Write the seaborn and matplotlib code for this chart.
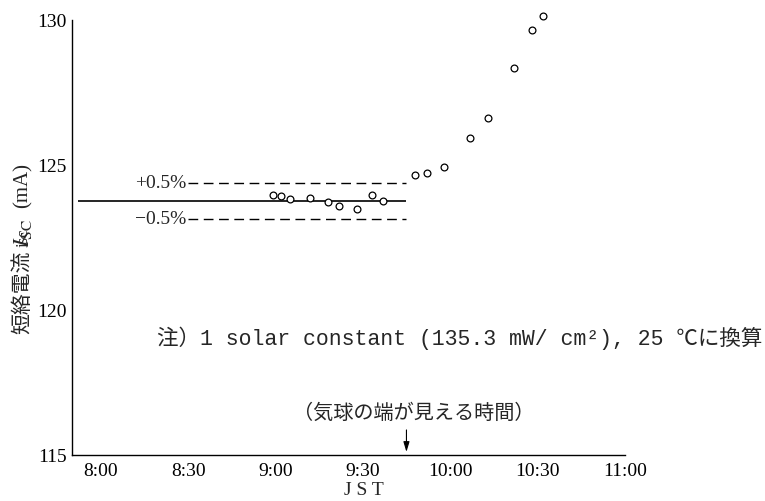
import matplotlib
matplotlib.use("Agg")
import matplotlib.pyplot as plt
import seaborn as sns
import pandas as pd

# Short-circuit current measurements (JST clock time, mA)
clock_times = ["8:59", "9:02", "9:05", "9:12", "9:18", "9:22", "9:28", "9:33", "9:37",
               "9:48", "9:52", "9:58", "10:07", "10:13", "10:22", "10:28", "10:32"]
isc_values = [123.95, 123.93, 123.83, 123.85, 123.72, 123.57, 123.46, 123.97, 123.74,
              124.64, 124.71, 124.92, 125.91, 126.62, 128.34, 129.64, 130.13]

# Reference level and its ±0.5 % band
reference_isc = 123.76
band_pct = 0.5
ref_line_span = ("7:52", "9:45")
band_span = ("8:30", "9:45")
balloon_time = "9:45"

x_tick_labels = ["8:00", "8:30", "9:00", "9:30", "10:00", "10:30", "11:00"]
y_ticks = [115, 120, 125, 130]


def to_minutes(t):
    h, m = t.split(":")
    return int(h) * 60 + int(m)


df = pd.DataFrame({"t": [to_minutes(t) for t in clock_times], "isc": isc_values})

sns.set_theme(style="white")
plt.rcParams["font.family"] = ["Liberation Serif", "Noto Sans CJK JP"]
plt.rcParams["mathtext.fontset"] = "stix"

W, H = 765, 502
fig = plt.figure(figsize=(W / 100, H / 100), dpi=100)
ax = fig.add_axes([0.0937, 0.0922, 0.7230, 0.8666])

# reference line and band
lo, hi = (to_minutes(t) for t in ref_line_span)
ax.hlines(reference_isc, lo, hi, color="black", lw=1.2)
b_lo, b_hi = (to_minutes(t) for t in band_span)
up = reference_isc * (1 + band_pct / 100)
dn = reference_isc * (1 - band_pct / 100)
ax.hlines([up, dn], b_lo, b_hi, color="black", lw=1.0, linestyles=(0, (7, 4)))
ax.text(b_lo - 0.5, up, f"+{band_pct}%", ha="right", va="center", fontsize=14)
ax.text(b_lo - 0.5, dn, f"\u2212{band_pct}%", ha="right", va="center", fontsize=14)

# measured points
sns.scatterplot(data=df, x="t", y="isc", ax=ax, marker="o", s=24,
                facecolor="white", edgecolor="black", linewidth=0.9, zorder=3)
ax.collections[-1].set_clip_on(False)

# balloon edge marker
bt = to_minutes(balloon_time)
ax.annotate("", xy=(bt, 115), xytext=(bt, 115.95),
            arrowprops=dict(arrowstyle="-|>,head_length=0.5,head_width=0.15",
                            color="black", lw=0.8), annotation_clip=False)
ax.text(bt + 2.5, 116.45, "（気球の端が見える時間）", ha="center", va="center",
        fontsize=14.5, family=["Noto Sans CJK JP"])

# axes styling
ax.set_xlim(to_minutes("7:50"), to_minutes("11:00"))
ax.set_ylim(115, 130)
ax.set_xticks([to_minutes(t) for t in x_tick_labels])
ax.set_xticklabels(x_tick_labels)
ax.set_yticks(y_ticks)
ax.set_yticklabels([str(v) for v in y_ticks])
for side in ("top", "right"):
    ax.spines[side].set_visible(False)
for side in ("left", "bottom"):
    ax.spines[side].set_color("black")
    ax.spines[side].set_linewidth(1.0)
ax.tick_params(direction="in", length=4, width=0.8, labelsize=14, colors="black")
ax.tick_params(axis="x", pad=5)

ax.set_xlabel("J S T", fontsize=14, va="center")
ax.xaxis.set_label_coords(0.528, -0.081)


def ytitle_part(px_x, px_bottom, s, **kw):
    """Vertical y-axis title piece whose lower end sits at the given pixel row."""
    fig.text(px_x / W, 1 - px_bottom / H, s, rotation=90,
             ha="center", va="bottom", **kw)


# y-axis title: Japanese name, symbol with subscript, unit
ytitle_part(22.5, 334, "短絡電流", fontsize=15, family=["Noto Sans CJK JP"])
ytitle_part(23.5, 247, "$I_{\\mathrm{SC}}$", fontsize=16)
ytitle_part(22.5, 208, "(mA)", fontsize=15)

fig.text(0.205, 0.327, "注）1 solar constant (135.3 mW/ cm²), 25 ℃に換算",
         ha="left", va="center", fontsize=15.5,
         family=["Liberation Mono", "Noto Sans CJK JP"])

fig.savefig("out.png", dpi=100)
